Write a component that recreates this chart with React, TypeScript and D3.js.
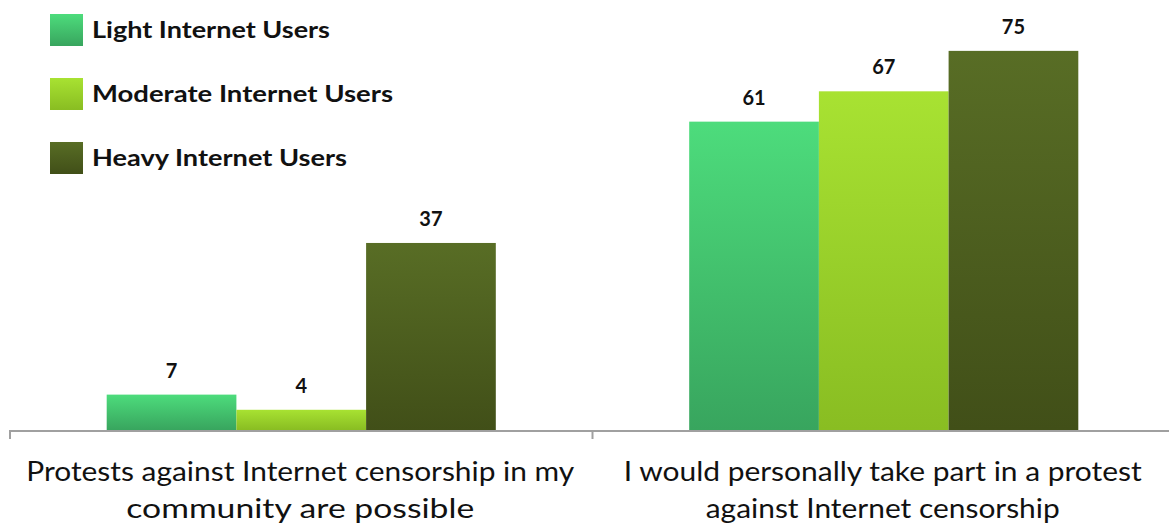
import React from "react";
import * as d3 from "d3";

const categories = [
  ["Protests against Internet censorship in my", "community are possible"],
  ["I would personally take part in a protest", "against Internet censorship"],
];
const seriesNames = ["Light Internet Users", "Moderate Internet Users", "Heavy Internet Users"];
const lightValues = [7, 61];
const moderateValues = [4, 67];
const heavyValues = [37, 75];
const seriesValues = [lightValues, moderateValues, heavyValues];

const colorsTop = ["#4ddc7c", "#a8e232", "#586d25"];
const colorsBottom = ["#38a55e", "#89bd22", "#414f18"];

const W = 1169;
const H = 525;
const baseY = 430;

export default function App() {
  const x0 = d3.scaleBand<number>().domain([0, 1]).range([10, 1175]).padding(0);
  const bw = x0.bandwidth();
  const x1 = d3
    .scaleBand<number>()
    .domain([0, 1, 2])
    .range([bw * 0.166, bw * 0.834])
    .padding(0);
  const y = d3.scaleLinear().domain([0, 80]).range([baseY, baseY - 80 * 5.055]);

  const font = "Lato, 'Open Sans', sans-serif";
  const catWidths = [[548, 348], [518, 354]];
  const legendWidths = [238, 301, 255];

  return (
    <div style={{ position: "absolute", left: 0, top: 0 }}>
      <svg width={W} height={H} style={{ display: "block", background: "#fff" }}>
        <defs>
          {colorsTop.map((c, i) => (
            <linearGradient key={i} id={`g${i}`} x1="0" y1="0" x2="0" y2="1">
              <stop offset="0%" stopColor={c} />
              <stop offset="100%" stopColor={colorsBottom[i]} />
            </linearGradient>
          ))}
        </defs>
        {/* bars */}
        {categories.map((_, ci) =>
          seriesValues.map((vals, si) => {
            const v = vals[ci];
            const bx = (x0(ci) as number) + (x1(si) as number);
            return (
              <g key={`${ci}-${si}`}>
                <rect
                  x={bx}
                  y={y(v)}
                  width={x1.bandwidth()}
                  height={baseY - y(v)}
                  fill={`url(#g${si})`}
                />
                <text
                  x={bx + x1.bandwidth() / 2}
                  y={y(v) - 17}
                  textAnchor="middle"
                  fontFamily={font}
                  fontWeight="bold"
                  fontSize={20}
                  fill="#111"
                >
                  {v}
                </text>
              </g>
            );
          })
        )}
        {/* axis */}
        <line x1={10} x2={W} y1={baseY + 1} y2={baseY + 1} stroke="#a0a0a0" strokeWidth={2} />
        {[0, 1].map((i) => (
          <line
            key={i}
            x1={x0(i) as number}
            x2={x0(i) as number}
            y1={baseY}
            y2={baseY + 9}
            stroke="#a0a0a0"
            strokeWidth={2}
          />
        ))}
        {/* category labels */}
        {categories.map((lines, ci) =>
          lines.map((ln, li) => (
            <text
              key={`${ci}-${li}`}
              x={(x0(ci) as number) + bw / 2 - 1}
              y={481 + li * 37}
              textAnchor="middle"
              fontFamily={font}
              fontSize={27}
              fill="#111"
              textLength={catWidths[ci][li]}
              lengthAdjust="spacingAndGlyphs"
            >
              {ln}
            </text>
          ))
        )}
        {/* legend */}
        {seriesNames.map((name, i) => (
          <g key={name} transform={`translate(50, ${14 + i * 64})`}>
            <rect width={33} height={32} fill={`url(#g${i})`} />
            <text
              x={42}
              y={24}
              fontFamily={font}
              fontWeight="bold"
              fontSize={22}
              fill="#111"
              textLength={legendWidths[i]}
              lengthAdjust="spacingAndGlyphs"
            >
              {name}
            </text>
          </g>
        ))}
      </svg>
    </div>
  );
}
